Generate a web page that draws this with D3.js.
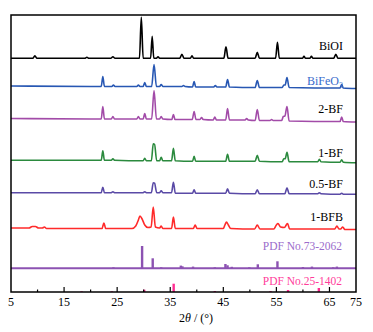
<!DOCTYPE html>
<html>
<head>
<meta charset="utf-8">
<script src="https://cdn.jsdelivr.net/npm/d3@7"></script>
<style>
  body { margin: 0; background: #fff; }
  svg text { font-family: "Liberation Serif", "Times New Roman", serif; }
</style>
</head>
<body>
<div id="chart"></div>
<script>
// XRD patterns, [2theta, intensity a.u.], baseline = 0
const biOI = [[5,0],[9.1,0],[9.5,2.5],[9.9,0],[18.9,0],[19.3,1],[19.7,0],[23.8,0],[24.2,1.5],[24.6,0],
  [29.2,0],[29.55,41],[29.9,0],[31.3,0],[31.6,22],[31.9,0],[32.4,0],[32.7,1.5],[33.0,0],[36.8,0],[37.2,4],[37.6,0],
  [38.8,0],[39.1,2.5],[39.4,0],[45.1,0],[45.5,11.5],[45.9,0],[51.0,0],[51.4,6],[51.8,0],[54.85,0],[55.2,16],[55.55,0],
  [59.9,0],[60.2,2],[60.5,0],[61.3,0],[61.6,2],[61.9,0],[65.8,0],[66.2,4],[66.6,0],[70,0]];

const biFeO3 = [[5,0.5],[20,0],[22.0,0],[22.3,10],[22.6,0],[24.0,0],[24.3,1.5],[24.6,0],[28.7,0],[29.0,1.5],[29.3,0],
  [29.9,0],[30.2,4],[30.5,0],[31.5,0],[31.95,22],[32.4,0],[33.0,0],[33.3,2],[33.6,0],[37.2,0],[37.5,1],[37.8,0],
  [39.2,-0.5],[39.5,5],[39.8,-0.5],[43.2,-0.5],[43.5,1],[43.8,-0.5],[45.45,-0.5],[45.8,7],[46.15,-0.5],
  [51.0,-1],[51.4,6],[51.8,-1],[56.1,-1],[56.4,1.5],[56.65,1.5],[57.0,9],[57.4,-1],[67.0,-1.5],[67.3,2],[67.6,-1.5],[70,-2]];

const bf2 = [[5,0],[20,-0.5],[22.0,-0.5],[22.3,12],[22.6,-0.5],[23.9,-0.5],[24.2,2],[24.5,-0.5],[28.7,-0.5],[29.0,2],[29.3,-0.5],
  [29.9,-0.5],[30.2,5],[30.5,-0.5],[31.5,-0.5],[31.95,28],[32.4,-0.5],[33.0,-0.5],[33.3,2],[33.6,-0.5],[35.3,-1],[35.6,4],[35.9,-1],
  [39.15,-1],[39.5,7],[39.85,-1],[40.6,-1],[40.9,1],[41.2,-1],[43.1,-1.5],[43.4,1.5],[43.7,-1.5],[45.45,-1.5],[45.8,10],[46.15,-1.5],
  [49.1,-1.5],[49.4,0],[49.7,-1.5],[51.0,-2],[51.4,9],[51.8,-2],[53.8,-2],[54.1,-1],[54.4,-2],[56.0,-2],[56.3,2],[56.6,2.5],[57.0,12],[57.4,-2.5],
  [67.0,-3],[67.3,1.5],[67.6,-3],[70,-3.5]];

const bf1 = [[5,0],[20,0],[22.0,0],[22.3,9.5],[22.6,0],[23.9,0],[24.2,1.5],[24.5,0],[29.9,-0.5],[30.2,2],[30.5,-0.5],
  [31.45,-0.5],[31.8,16.5],[32.05,16],[32.45,-0.5],[33.0,-0.5],[33.3,3],[33.6,-0.5],[35.25,-0.5],[35.6,12],[35.95,-0.5],
  [39.2,-1],[39.5,4],[39.8,-1],[45.45,-1],[45.8,6],[46.15,-1],[51.0,-1],[51.4,5],[51.8,-1],[56.1,-1.5],[56.4,1.5],[56.65,1.5],[57.0,8],[57.4,-1.5],
  [62.8,-1.5],[63.1,1],[63.4,-1.5],[67.0,-2],[67.3,0.5],[67.6,-2],[70,-2.5]];

const bf05 = [[5,0],[20,0],[22.0,0],[22.3,5.5],[22.6,0],[23.9,0],[24.2,1],[24.5,0],[29.9,0],[30.2,1],[30.5,0],
  [31.45,0],[31.8,10],[32.05,9.5],[32.45,0],[33.0,0],[33.3,2],[33.6,0],[35.25,0],[35.6,10.5],[35.95,-0.5],
  [39.2,-0.5],[39.5,3],[39.8,-0.5],[45.45,-0.5],[45.8,4],[46.15,-0.5],[51.0,-1],[51.4,3],[51.8,-1],[56.6,-1],[57.0,5],[57.4,-1],
  [62.8,-1],[63.1,0],[63.4,-1],[67.0,-1.5],[67.3,-0.5],[67.6,-1.5],[70,-1.5]];

const bfb1 = [[5,0],[8.4,0],[9.0,1.5],[9.6,1.5],[10.2,0],[10.9,0],[11.3,1],[11.7,-0.5],[20,-0.5],[22.15,-0.5],[22.5,5],[22.85,-0.5],
  [27.8,-0.5],[28.5,2],[29.0,8],[29.3,12],[29.7,9],[30.2,3],[30.8,0.5],[31.4,1],[31.8,21],[32.2,1],[33.0,0],[33.3,2],[33.6,-0.5],
  [35.25,-0.5],[35.6,11],[35.95,-0.5],[39.35,-0.5],[39.7,3],[40.05,-0.5],[45.0,-0.5],[45.3,3],[45.6,6],[45.95,3],[46.4,-0.5],
  [50.9,-1],[51.4,3],[51.9,-1],[54.5,-1],[55.0,3],[55.3,4.5],[55.8,1],[56.5,0.5],[57.1,4.5],[57.5,-1],
  [66.0,-1],[66.4,2],[66.8,-1],[67.1,-1],[67.5,1],[67.9,-1.5],[70,-1.5]];

// reference sticks, [2theta, intensity]
const pdf732062 = [[24.3,1],[29.7,22.3],[31.7,10],[33.3,1],[37.0,2.7],[37.3,2],[39.3,1.7],[43.4,1],[45.4,4.3],[45.8,3],
  [46.6,1.5],[49.9,1],[51.5,4],[55.2,7],[60.0,1.3],[61.7,1.7],[65.7,1],[66.4,1.7]];
const pdf251402 = [[18.3,0.7],[24.0,0.7],[30.1,2.3],[35.65,8.3],[43.4,1],[53.9,1],[57.2,2],[63.0,4]];

// stacking offsets (a.u.)
const names = ["BiOI", "BiFeO3", "2-BF", "1-BF", "0.5-BF", "1-BFB"];
const patterns = [biOI, biFeO3, bf2, bf1, bf05, bfb1];
const offsets = [233.7, 205.5, 173.5, 131.7, 99.3, 64.0];
const colors = ["#000000", "#2757b3", "#a24ba8", "#2b8a3e", "#5a4aa6", "#ff2a2a"];
const labelColors = ["#000000", "#3a6dcc", "#000000", "#000000", "#000000", "#000000"];
const labelOffsets = [241.8, 206.8, 178.8, 135.2, 104.5, 71.2];

const stickNames = ["PDF No.73-2062", "PDF No.25-1402"];
const stickSets = [pdf732062, pdf251402];
const stickOffsets = [23.7, 0];
const stickColors = ["#8c52b2", "#ff2e93"];
const stickLabelColors = ["#9b6ccb", "#ff3d9a"];
const stickLabelOffsets = [41.7, 7.0];

const tickValues = [5, 15, 25, 35, 45, 55, 65, 70];
const tickLabels = ["5", "15", "25", "35", "45", "55", "65", "75"];
const minorTicks = [10, 20, 30, 40, 50, 60];

const width = 373, height = 332;
const margin = {left: 11, right: 17, top: 15, bottom: 40};

const svg = d3.select('#chart')
  .append('svg')
  .attr('width', width)
  .attr('height', height);

const x = d3.scaleLinear()
  .domain([5, 70])
  .range([margin.left, width - margin.right]);

const y = d3.scaleLinear()
  .domain([0, 277])
  .range([height - margin.bottom, margin.top]);

const line = d3.line()
  .x(d => x(d[0]))
  .y(d => y(d[1]))
  .curve(d3.curveMonotoneX);

// patterns
patterns.forEach((p, i) => {
  svg.append("path")
    .datum(p.map(d => [d[0], d[1] + offsets[i]]))
    .attr("d", line)
    .attr("fill", "none")
    .attr("stroke", colors[i])
    .attr("stroke-width", 1.6)
    .attr("stroke-linejoin", "round");
});

// labels, BiFeO3 gets a subscript
names.forEach((n, i) => {
  let t = svg.append("text")
    .attr("x", 343)
    .attr("y", y(labelOffsets[i]))
    .attr("text-anchor", "end")
    .attr("font-size", 12)
    .attr("fill", labelColors[i]);
  if (n === "BiFeO3") {
    t.append("tspan").text("BiFeO");
    t.append("tspan").attr("font-size", 8).attr("dy", 3).text("3");
  } else {
    t.text(n);
  }
});

// stick patterns
stickSets.forEach((s, i) => {
  if (stickOffsets[i] > 0) {
    svg.append("line")
      .attr("x1", x(5)).attr("x2", x(70))
      .attr("y1", y(stickOffsets[i])).attr("y2", y(stickOffsets[i]))
      .attr("stroke", stickColors[i])
      .attr("stroke-width", 2);
  }
  svg.selectAll(null)
    .data(s)
    .enter()
    .append("rect")
    .attr("x", d => x(d[0]) - 1.2)
    .attr("width", 2.4)
    .attr("y", d => y(d[1] + stickOffsets[i]))
    .attr("height", d => y(stickOffsets[i]) - y(d[1] + stickOffsets[i]))
    .attr("fill", stickColors[i]);
  svg.append("text")
    .attr("x", 342)
    .attr("y", y(stickLabelOffsets[i]))
    .attr("text-anchor", "end")
    .attr("font-size", 11.5)
    .attr("fill", stickLabelColors[i])
    .text(stickNames[i]);
});

// axis ticks (inward) and labels
const base = height - margin.bottom;
svg.selectAll(null)
  .data(tickValues.slice(1, -1))
  .enter()
  .append("line")
  .attr("x1", d => x(d)).attr("x2", d => x(d))
  .attr("y1", base).attr("y2", base - 5)
  .attr("stroke", "#000").attr("stroke-width", 1.2);
svg.selectAll(null)
  .data(minorTicks)
  .enter()
  .append("line")
  .attr("x1", d => x(d)).attr("x2", d => x(d))
  .attr("y1", base).attr("y2", base - 2.5)
  .attr("stroke", "#000").attr("stroke-width", 1.2);
svg.selectAll(null)
  .data(tickValues)
  .enter()
  .append("text")
  .attr("x", d => x(d))
  .attr("y", base + 14)
  .attr("text-anchor", "middle")
  .attr("font-size", 12)
  .text((d, i) => tickLabels[i]);

// frame
svg.append("rect")
  .attr("x", x(5)).attr("y", margin.top)
  .attr("width", x(70) - x(5))
  .attr("height", base - margin.top)
  .attr("fill", "none")
  .attr("stroke", "#000")
  .attr("stroke-width", 1.5);

// axis title
let title = svg.append("text")
  .attr("x", 196)
  .attr("y", 322)
  .attr("text-anchor", "middle")
  .attr("font-size", 12);
title.append("tspan").text("2");
title.append("tspan").attr("font-style", "italic").text("θ");
title.append("tspan").text(" / (°)");
</script>
</body>
</html>
